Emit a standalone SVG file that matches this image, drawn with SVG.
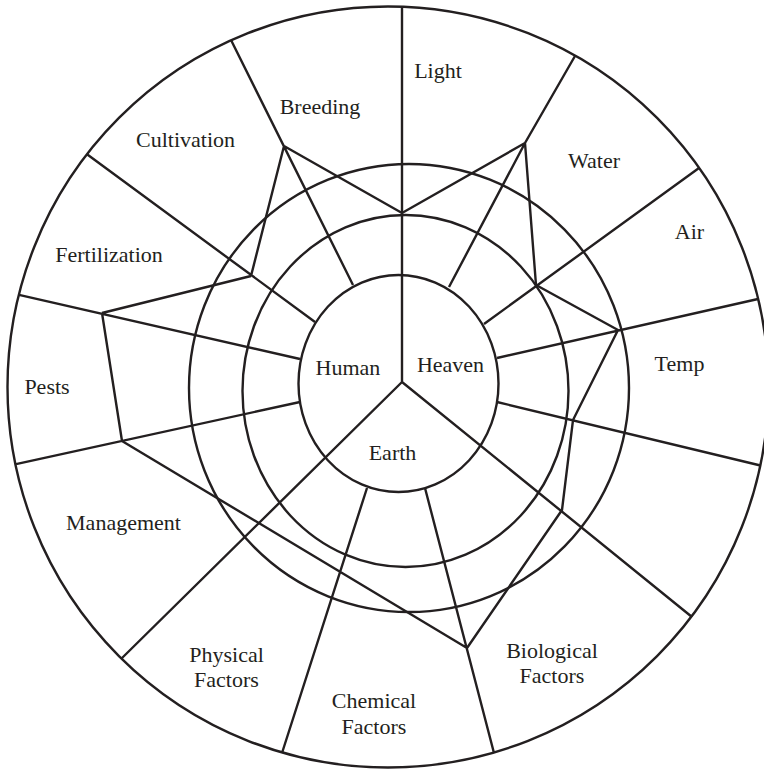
<svg xmlns="http://www.w3.org/2000/svg" width="764" height="770" viewBox="0 0 764 770">
<style>
.ln{fill:none;stroke:#231f20;stroke-width:2.4;stroke-linejoin:miter;stroke-linecap:butt}
.lb{font-family:"Liberation Serif","Times New Roman",serif;font-size:22px;fill:#231f20;text-anchor:middle}
</style>
<rect width="764" height="770" fill="#ffffff"/>
<g id="rings" class="ln">
<circle cx="388" cy="387" r="380.5"/>
<ellipse cx="409" cy="388" rx="220" ry="224"/>
<ellipse cx="405.5" cy="391" rx="163" ry="176"/>
<ellipse cx="398.5" cy="383.5" rx="100" ry="108.5"/>
</g>
<g id="connectors" class="ln">
<path d="M402 382V6M402 382L121 659M402 382L692 617"/>
<path d="M449 287L525 143L575 56M525 143L402 213M525 143L536 285M484 324L699 168M536 285L618 330M497 358L758 299M618 330L573 420L562 510L467 648M497 402L760.5 465.5"/>
<path d="M425 488L494 753M367 488L282 753M122 441L467 648"/>
<path d="M19 294.8L300 359M102 313L251 276M251 276L284 146M87 154.3L315 322M231 40L353 285M284 146L402 213M102 313L122 441M16 464.2L300 402"/>
</g>
<g id="heaven"><text class="lb" x="450.5" y="372">Heaven</text></g>
<g id="human"><text class="lb" x="348" y="375">Human</text></g>
<g id="earth"><text class="lb" x="392.5" y="460">Earth</text></g>
<g id="light"><text class="lb" x="438" y="78">Light</text></g>
<g id="water"><text class="lb" x="594" y="168">Water</text></g>
<g id="air"><text class="lb" x="689.5" y="239">Air</text></g>
<g id="temp"><text class="lb" x="679.5" y="371">Temp</text></g>
<g id="biological"><text class="lb" x="552" y="658">Biological</text><text class="lb" x="552" y="683">Factors</text></g>
<g id="chemical"><text class="lb" x="374" y="708">Chemical</text><text class="lb" x="374" y="734">Factors</text></g>
<g id="physical"><text class="lb" x="226.5" y="662">Physical</text><text class="lb" x="226.5" y="687">Factors</text></g>
<g id="management"><text class="lb" x="123.5" y="530">Management</text></g>
<g id="pests"><text class="lb" x="47" y="394">Pests</text></g>
<g id="fertilization"><text class="lb" x="109" y="262">Fertilization</text></g>
<g id="cultivation"><text class="lb" x="185.5" y="147">Cultivation</text></g>
<g id="breeding"><text class="lb" x="320" y="114">Breeding</text></g>
</svg>
